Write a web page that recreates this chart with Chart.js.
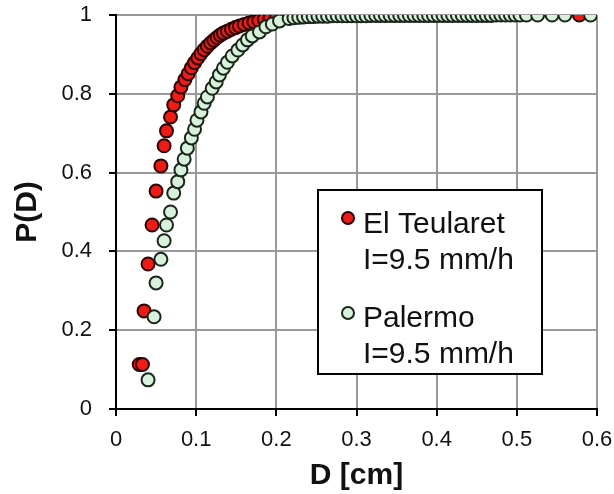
<!DOCTYPE html>
<html>
<head>
<meta charset="utf-8">
<script src="https://cdn.jsdelivr.net/npm/chart.js@4"></script>
<style>
  body { margin: 0; background: #fff; }
  #wrap { position: relative; width: 614px; height: 494px; }
</style>
</head>
<body>
<div id="wrap"><canvas id="myChart" width="614" height="494"></canvas></div>
<script>
const xTicks = [0, 0.1, 0.2, 0.3, 0.4, 0.5, 0.6];
const yTicks = [0, 0.2, 0.4, 0.6, 0.8, 1];

const seriesNames = ['El Teularet', 'Palermo'];
const seriesNotes = ['I=9.5 mm/h', 'I=9.5 mm/h'];

// El Teularet
const teularetD = [0.029, 0.033, 0.035, 0.040, 0.045, 0.050, 0.056, 0.060, 0.063, 0.068,
  0.072, 0.077, 0.081, 0.086, 0.090, 0.094, 0.098, 0.102, 0.106, 0.110,
  0.114, 0.118, 0.122, 0.126, 0.130, 0.134, 0.139, 0.144, 0.149, 0.154,
  0.160, 0.166, 0.172, 0.178, 0.185, 0.192, 0.200, 0.208, 0.217, 0.226,
  0.236, 0.246, 0.256, 0.266, 0.276, 0.286, 0.296, 0.306, 0.316, 0.326,
  0.336, 0.346, 0.578];
const teularetP = [0.113, 0.113, 0.249, 0.368, 0.467, 0.553, 0.617, 0.668, 0.706, 0.741,
  0.772, 0.795, 0.817, 0.836, 0.851, 0.866, 0.879, 0.891, 0.902, 0.912,
  0.921, 0.929, 0.936, 0.943, 0.949, 0.954, 0.959, 0.964, 0.968, 0.972,
  0.976, 0.980, 0.983, 0.986, 0.989, 0.991, 0.993, 0.995, 0.997, 0.998,
  0.999, 1.0, 1.0, 1.0, 1.0, 1.0, 1.0, 1.0, 1.0, 1.0,
  1.0, 1.0, 1.0];

// Palermo
const palermoD = [0.040, 0.0475, 0.050, 0.056, 0.060, 0.063, 0.068, 0.072, 0.077, 0.081,
  0.085, 0.089, 0.094, 0.098, 0.101, 0.106, 0.110, 0.114, 0.120, 0.125,
  0.129, 0.134, 0.139, 0.145, 0.152, 0.158, 0.164, 0.170, 0.179, 0.187,
  0.195, 0.204, 0.216, 0.222, 0.228, 0.234, 0.240, 0.246, 0.252, 0.258,
  0.264, 0.270, 0.276, 0.282, 0.288, 0.294, 0.300, 0.306, 0.312, 0.318,
  0.324, 0.330, 0.336, 0.342, 0.348, 0.354, 0.360, 0.366, 0.372, 0.378,
  0.384, 0.390, 0.396, 0.402, 0.408, 0.414, 0.420, 0.426, 0.432, 0.438,
  0.444, 0.450, 0.456, 0.462, 0.468, 0.474, 0.480, 0.486, 0.492, 0.498,
  0.504, 0.512, 0.526, 0.544, 0.560, 0.592];
const palermoP = [0.074, 0.234, 0.320, 0.380, 0.427, 0.467, 0.500, 0.548, 0.577, 0.607,
  0.634, 0.662, 0.688, 0.710, 0.733, 0.754, 0.776, 0.792, 0.814, 0.830,
  0.848, 0.865, 0.880, 0.896, 0.911, 0.924, 0.937, 0.947, 0.957, 0.970,
  0.977, 0.985, 0.991, 0.993, 0.994, 0.995, 0.996, 0.996, 0.997, 0.997,
  0.997, 0.998, 0.998, 0.998, 0.998, 0.998, 0.998, 0.998, 0.998, 0.999,
  0.999, 0.999, 0.999, 0.999, 0.999, 0.999, 0.999, 0.999, 0.999, 0.999,
  0.999, 0.999, 0.999, 0.999, 0.999, 0.999, 0.999, 0.999, 0.999, 0.999,
  0.999, 0.999, 0.999, 0.999, 0.999, 1.0, 1.0, 1.0, 1.0, 1.0,
  1.0, 1.0, 1.0, 1.0, 1.0, 1.0];

const colors = [
  { fill: '#f21a12', edge: '#2a0000' },
  { fill: '#d6f2da', edge: '#1a261a' }
];

const fontFamily = '"Liberation Sans", Arial, sans-serif';

function toPoints(xs, ys) {
  return xs.map((x, i) => ({ x: x, y: ys[i] }));
}

// legend box drawn inside the plot
const boxLegend = {
  id: 'boxLegend',
  afterDraw(chart) {
    const ctx = chart.ctx;
    ctx.save();
    ctx.fillStyle = '#fff';
    ctx.fillRect(318, 190, 224, 184);
    ctx.strokeStyle = '#000';
    ctx.lineWidth = 2;
    ctx.strokeRect(318, 190, 224, 184);
    ctx.font = '30px ' + fontFamily;
    ctx.textBaseline = 'alphabetic';
    const rows = [233, 327];
    const marks = [218, 313];
    seriesNames.forEach((name, i) => {
      const y = rows[i];
      ctx.beginPath();
      ctx.arc(348, marks[i], 6, 0, Math.PI * 2);
      ctx.fillStyle = colors[i].fill;
      ctx.fill();
      ctx.lineWidth = 2;
      ctx.strokeStyle = colors[i].edge;
      ctx.stroke();
      ctx.fillStyle = '#111';
      ctx.fillText(name, 363, y);
      ctx.fillText(seriesNotes[i], 363, y + 36);
    });
    ctx.restore();
  }
};

const ctx = document.getElementById('myChart').getContext('2d');
const chart = new Chart(ctx, {
  type: 'scatter',
  data: {
    datasets: [
      {
        label: seriesNames[0],
        data: toPoints(teularetD, teularetP),
        backgroundColor: colors[0].fill,
        borderColor: colors[0].edge,
        borderWidth: 2,
        pointRadius: 6.5,
        order: 2
      },
      {
        label: seriesNames[1],
        data: toPoints(palermoD, palermoP),
        backgroundColor: colors[1].fill,
        borderColor: colors[1].edge,
        borderWidth: 2,
        pointRadius: 6.5,
        order: 1
      }
    ]
  },
  options: {
    responsive: false,
    animation: false,
    layout: { padding: { top: 15, right: 17, left: 0, bottom: 0 } },
    plugins: {
      legend: { display: false },
      tooltip: { enabled: false }
    },
    scales: {
      x: {
        type: 'linear',
        min: 0,
        max: 0.6,
        afterBuildTicks: axis => { axis.ticks = xTicks.map(v => ({ value: v })); },
        afterFit: axis => {
          axis.height = 85;
          axis.paddingLeft = 0;
          axis.paddingRight = 0;
        },
        ticks: {
          color: '#111',
          padding: 11,
          font: { family: fontFamily, size: 22 },
          callback: v => String(v)
        },
        grid: { color: '#999', lineWidth: 2, tickColor: '#000', tickLength: 7 },
        border: { color: '#000', width: 2 },
        title: {
          display: true,
          text: 'D [cm]',
          color: '#111',
          padding: { top: 0, bottom: 0 },
          font: { family: fontFamily, size: 30, weight: 'bold' }
        }
      },
      y: {
        type: 'linear',
        min: 0,
        max: 1,
        afterBuildTicks: axis => { axis.ticks = yTicks.map(v => ({ value: v })); },
        afterFit: axis => {
          axis.width = 116;
          axis.paddingTop = 0;
          axis.paddingBottom = 0;
        },
        ticks: {
          color: '#111',
          padding: 17,
          font: { family: fontFamily, size: 22 },
          callback: v => String(v)
        },
        grid: { color: '#999', lineWidth: 2, tickColor: '#000', tickLength: 7 },
        border: { color: '#000', width: 2 },
        title: {
          display: true,
          text: 'P(D)',
          color: '#111',
          padding: { top: 10, bottom: 0 },
          font: { family: fontFamily, size: 30, weight: 'bold' }
        }
      }
    }
  },
  plugins: [boxLegend]
});
</script>
</body>
</html>
